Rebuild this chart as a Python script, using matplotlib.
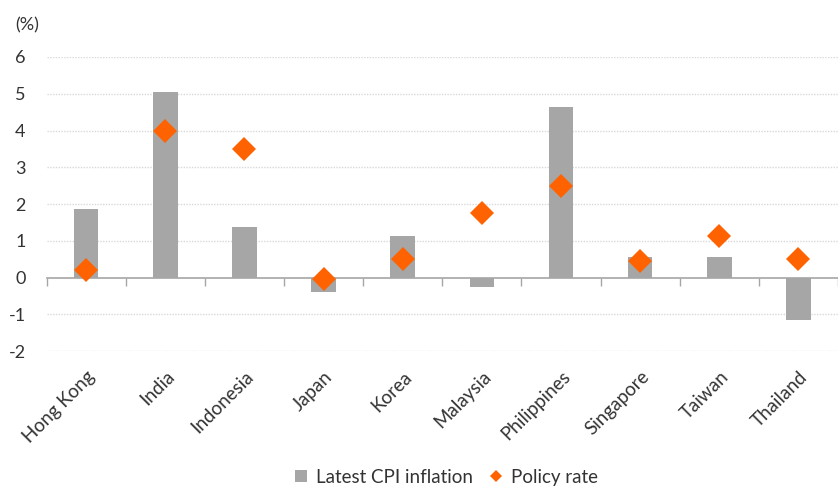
import matplotlib
matplotlib.use("Agg")
import matplotlib.pyplot as plt
from matplotlib.lines import Line2D
import numpy as np

plt.rcParams['font.family'] = ['Lato', 'DejaVu Sans']

countries = ['Hong Kong', 'India', 'Indonesia', 'Japan', 'Korea',
             'Malaysia', 'Philippines', 'Singapore', 'Taiwan', 'Thailand']
cpi = [1.87, 5.05, 1.37, -0.40, 1.12, -0.25, 4.65, 0.55, 0.55, -1.15]
policy = [0.22, 4.00, 3.50, -0.05, 0.50, 1.75, 2.50, 0.45, 1.125, 0.50]
yticks = [-2, -1, 0, 1, 2, 3, 4, 5, 6]

bar_col = '#a6a6a6'
orange = '#ff6200'
txt = '#333333'

fig = plt.figure(figsize=(8.38, 4.87), dpi=100)
ax = fig.add_axes([0.0555, 0.279, 0.9445, 0.604])

x = np.arange(len(countries))
ax.bar(x, cpi, width=0.31, color=bar_col, zorder=2)
ax.plot(x, policy, linestyle='none', marker='D', markersize=12,
        color=orange, markeredgewidth=0, zorder=3)

ax.set_ylim(-2, 6)
ax.set_xlim(-0.5, 9.394)
ax.set_yticks(yticks)
ax.set_yticklabels([str(v) for v in yticks], fontsize=13, color=txt)
ax.tick_params(axis='y', length=0, pad=15)

# grid lines (not at zero, that's the axis)
for v in yticks:
    if v != 0:
        ax.axhline(v, color='#d9d9d9', linewidth=1, linestyle=(0, (1, 1)), zorder=0)

for s in ['top', 'right', 'left']:
    ax.spines[s].set_visible(False)
ax.spines['bottom'].set_position(('data', 0))
ax.spines['bottom'].set_color('#a6a6a6')
ax.spines['bottom'].set_linewidth(1.2)

# ticks between categories, labels placed by hand below the plot
ax.set_xticks([])
ax.set_xticks(np.arange(len(countries) + 1) - 0.5, minor=True)
ax.tick_params(axis='x', which='minor', length=6, width=1, color='#a6a6a6',
               direction='out')
for i, name in enumerate(countries):
    ax.text(i + 0.08, -2.62, name, rotation=45, ha='right', va='center',
            rotation_mode='anchor', fontsize=13.5, color=txt)

fig.text(0.018, 0.948, '(%)', fontsize=13, color=txt, va='center')

handles = [Line2D([], [], linestyle='none', marker='s', markersize=8,
                  color=bar_col, markeredgewidth=0),
           Line2D([], [], linestyle='none', marker='D', markersize=6,
                  color=orange, markeredgewidth=0)]
fig.legend(handles, ['Latest CPI inflation', 'Policy rate'], loc='center',
           bbox_to_anchor=(0.531, 0.02), ncol=2, frameon=False, fontsize=13.5,
           handletextpad=0.3, columnspacing=0.75, handlelength=1.0,
           labelcolor=txt)

fig.savefig('out.png', dpi=100)
